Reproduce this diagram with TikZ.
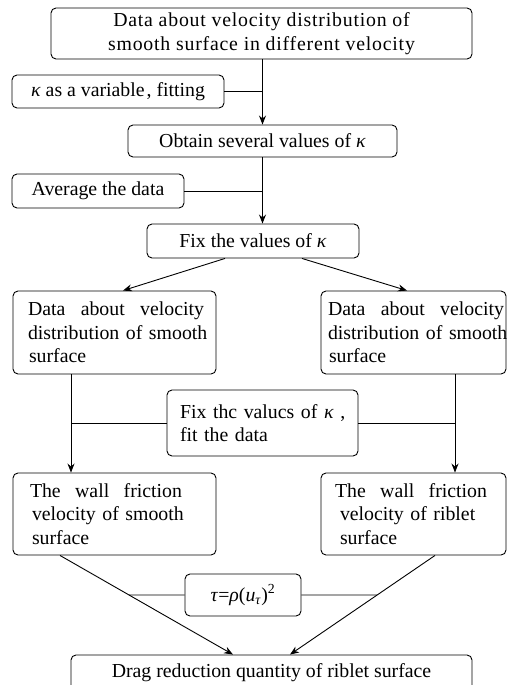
\documentclass[tikz,border=0pt]{standalone}
\usepackage{fontspec}
\setmainfont{Liberation Serif}
\usetikzlibrary{arrows.meta,calc}
\newcommand{\spreadline}[2]{\hbox to #1{#2}}
\begin{document}
\begin{tikzpicture}[x=1pt,y=-1pt,
  box/.style={draw, rounded corners=5pt, line width=0.9pt, inner sep=0pt,
    font=\fontsize{19.8}{23.5}\selectfont},
  multibox/.style={box, align=left, inner xsep=0pt},
  conn/.style={line width=0.9pt},
  arr/.style={conn, -{Stealth[length=9pt,width=7pt]}}]
\useasboundingbox (0,0) rectangle (507,685);

\node[box, minimum width=421, minimum height=51, align=center,
      font={\fontsize{19.8}{23.5}\selectfont\addfontfeature{LetterSpace=4}}] (top) at (261.5,33.5)
  {Data about velocity distribution of\\smooth surface in different velocity};
\node[box, minimum width=212, minimum height=33] (kfit) at (118,91.5)
  {\textit{κ} as a variable\kern2pt, fitting};
\node[box, minimum width=269, minimum height=32] (obtain) at (262.5,141)
  {Obtain several values of \textit{κ}};
\node[box, minimum width=172, minimum height=34] (avg) at (98,191)
  {Average the data};
\node[box, minimum width=212, minimum height=34] (fix) at (253,241)
  {Fix the values of \textit{κ}};

\node[multibox, text width=203, minimum width=203, minimum height=83] (L1) at (114.5,332.5)
  {\hspace*{15pt}\spreadline{176pt}{Data\hfill about\hfill velocity}\\
   \hspace*{15pt}distribution of smooth\\
   \hspace*{16pt}surface};
\node[multibox, text width=185, minimum width=185, minimum height=83] (R1) at (413.5,332.5)
  {\hspace*{7pt}\spreadline{176pt}{Data\hfill about\hfill velocity}\\
   \hspace*{7pt}\spreadline{176pt}{distribution of smooth}\\
   \hspace*{8pt}surface};

\node[multibox, text width=191, minimum width=191, minimum height=66] (mid) at (262.5,423)
  {\hspace*{13pt}Fix thc valucs of \textit{κ} ,\\
   \hspace*{13pt}fit the data};

\node[multibox, text width=203, minimum width=203, minimum height=82] (L2) at (114.5,514)
  {\hspace*{17pt}\spreadline{152pt}{The\hfill wall\hfill friction}\\
   \hspace*{19pt}velocity of smooth\\
   \hspace*{19pt}surface};
\node[multibox, text width=185, minimum width=185, minimum height=82] (R2) at (413.5,514)
  {\hspace*{14pt}\spreadline{152pt}{The\hfill wall\hfill friction}\\
   \hspace*{19pt}velocity of riblet\\
   \hspace*{19pt}surface};

\node[box, minimum width=116, minimum height=42] (formula) at (243,595)
  {\textit{τ}=\textit{ρ}(\textit{u}\textsubscript{\textit{τ}})\textsuperscript{2}};

\node[box, minimum width=401, minimum height=36] (bot) at (271.5,673)
  {Drag reduction quantity of riblet surface};

% top chain
\draw[arr] (obtain.north |- top.south) -- (obtain.north);
\draw[conn] (kfit.east) -- (kfit.east -| obtain.north);
\draw[arr] (obtain.south) -- (obtain.south |- fix.north);
\draw[conn] (avg.east) -- (avg.east -| obtain.south);

% split
\draw[arr] ([xshift=-28pt]fix.south) -- ([xshift=8.5pt]L1.north);
\draw[arr] ([xshift=49pt]fix.south) -- ([xshift=-6.5pt]R1.north);

% verticals
\coordinate (lv) at ([xshift=-43.5pt]L1.south);
\coordinate (rv) at ([xshift=41.5pt]R1.south);
\draw[arr] (lv) -- ([xshift=-43.5pt]L2.north);
\draw[arr] (rv) -- ([xshift=41.5pt]R2.north);
\draw[conn] (mid.west) -- (mid.west -| lv);
\draw[conn] (mid.east) -- (mid.east -| rv);

% to bottom
\coordinate (ls) at ([xshift=-54.5pt]L2.south);
\coordinate (le) at ([xshift=-38.5pt]bot.north);
\coordinate (rs) at ([xshift=21.5pt]R2.south);
\coordinate (re) at ([xshift=18.5pt]bot.north);
\draw[arr] (ls) -- (le);
\draw[arr] (rs) -- (re);
\draw[conn] (formula.west) -- (intersection of ls--le and formula.west--formula.east);
\draw[conn] (formula.east) -- (intersection of rs--re and formula.west--formula.east);
\end{tikzpicture}
\end{document}
